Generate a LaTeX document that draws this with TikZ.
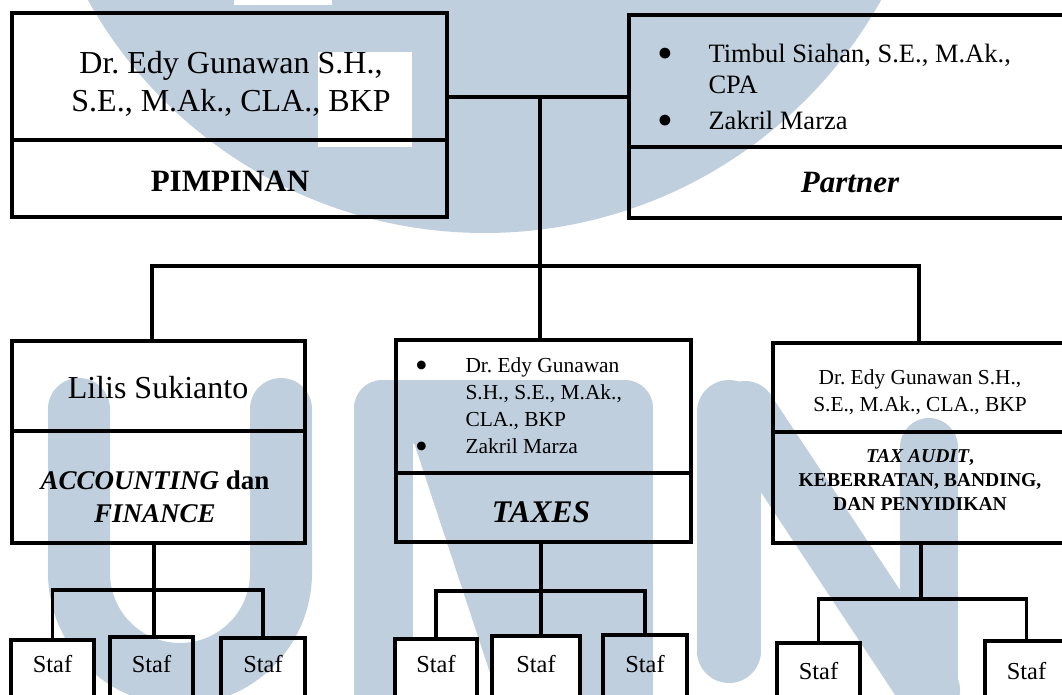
\documentclass[tikz,border=0pt]{standalone}
\usepackage{fontspec}
\setmainfont{Liberation Serif}
\frenchspacing
\usetikzlibrary{positioning}
\definecolor{wmblue}{RGB}{191,207,221}
\newcommand{\bigdot}{\raisebox{-0.23em}{\scalebox{1.7}{\textbullet}}}

\tikzset{
  box/.style={draw, line width=4pt, inner sep=0pt},
  stafbox/.style={box, minimum width=83pt, minimum height=70pt},
  link/.style={line width=3.5pt},
  bigtext/.style={font=\fontsize{32}{38}\selectfont, align=center},
  smalltext/.style={font=\fontsize{21.4}{27}\selectfont, align=center},
  staftext/.style={font=\fontsize{24.4}{28}\selectfont},
}

\begin{document}
\begin{tikzpicture}[x=1pt, y=-1pt]
\useasboundingbox (0,0) rectangle (1062,695);
\clip (0,0) rectangle (1062,695);

% watermark
\fill[wmblue] (484.5,-221) circle (454);
\fill[white] (234,0) rectangle (332,5);
\fill[white] (318,52) rectangle (412,147);
\draw[wmblue, line width=62pt, line cap=round] (79,409) -- (79,573)
    arc[start angle=180, end angle=0, radius=101] -- (281,409);
\fill[wmblue, rounded corners=28pt] (354,740) -- (354,380) -- (653,380) -- (653,740) -- cycle;
\fill[white, rounded corners=6pt] (413,440) -- (413,740) -- (512,740) -- cycle;
\draw[wmblue, line width=64pt, line cap=round] (729,412) -- (729,651);
\draw[wmblue, line width=62pt, line cap=round] (745,412) -- (929,690);
\draw[wmblue, line width=58pt, line cap=round] (929,447) -- (929,740);

% pimpinan
\node[box, minimum width=435pt, minimum height=127pt] (pimTop) at (229.5,76.5) {};
\node[box, minimum width=435pt, minimum height=77pt] (pimBot) at (229.5,178.5) {};
\node[bigtext] (pimName) at (231,84) {Dr. Edy Gunawan S.H.,\\ S.E., M.Ak., CLA., BKP};
\node[font=\bfseries\fontsize{31}{36}\selectfont] (pimRole) at (230,181) {PIMPINAN};

% partner
\node[box, minimum width=446pt, minimum height=132pt] (partTop) at (852,81) {};
\node[box, minimum width=446pt, minimum height=71pt] (partBot) at (852,182.5) {};
\node[anchor=west, font=\fontsize{26.5}{31}\selectfont] (partList) at (654,90)
    {\begin{tabular}{@{}p{51pt}@{}l@{}}
     \bigdot & Timbul Siahan, S.E., M.Ak.,\\
             & CPA\\[5pt]
     \bigdot & Zakril Marza
     \end{tabular}};
\node[font=\bfseries\itshape\fontsize{31}{36}\selectfont] (partRole) at (850,183) {Partner};

% accounting
\node[box, minimum width=293pt, minimum height=90pt] (accTop) at (158.5,386) {};
\node[box, minimum width=293pt, minimum height=112pt] (accBot) at (158.5,487) {};
\node[bigtext] (accName) at (158,388) {Lilis Sukianto};
\node[font=\bfseries\fontsize{27}{33}\selectfont, align=center] (accRole) at (155,497)
    {\textit{ACCOUNTING} dan\\ \textit{FINANCE}};

% taxes
\node[box, minimum width=295pt, minimum height=133pt] (taxTop) at (543.5,406.5) {};
\node[box, minimum width=295pt, minimum height=69pt] (taxBot) at (543.5,507.5) {};
\node[anchor=west, font=\fontsize{21.4}{27}\selectfont] (taxList) at (411.5,408)
    {\begin{tabular}{@{}p{50.5pt}@{}l@{}}
     \bigdot & Dr. Edy Gunawan\\
             & S.H., S.E., M.Ak.,\\
             & CLA., BKP\\
     \bigdot & Zakril Marza
     \end{tabular}};
\node[font=\bfseries\itshape\fontsize{31.5}{36}\selectfont] (taxRole) at (541,512) {TAXES};

% tax audit
\node[box, minimum width=294pt, minimum height=89pt] (audTop) at (920,387.5) {};
\node[box, minimum width=294pt, minimum height=111pt] (audBot) at (920,487.5) {};
\node[smalltext] (audName) at (920,392) {Dr. Edy Gunawan S.H.,\\ S.E., M.Ak., CLA., BKP};
\node[font=\bfseries\fontsize{19.6}{24}\selectfont, align=center] (audRole) at (920,480)
    {\textit{TAX AUDIT},\\ KEBERRATAN, BANDING,\\ DAN PENYIDIKAN};

% top connectors
\coordinate (hub) at (540,97);
\coordinate (busL) at (152,266);
\coordinate (busR) at (919,266);
\draw[link] (pimTop.east |- hub) -- (partTop.west |- hub);
\draw[link] (hub) -- (hub |- taxTop.north);
\draw[link] (busL |- accTop.north) -- (busL) -- (busR) -- (busR |- audTop.north);

% staf
\foreach \n/\x/\y/\w/\f/\t in {La/52.5/640/83/white/664, Lb/151.5/637/83/none/664,
    Lc/263/638/84/none/664, Ma/436/639/82/white/664, Mb/536/636/88/white/664,
    Mc/645/635/84/none/664, Ra/818.5/643/83/white/671, Rb/1026.5/641/83/white/671}{
  \node[stafbox, minimum width=\w pt, fill=\f] (staf\n) at (\x,\y+35) {};
  \node[staftext] (staf\n txt) at (\x,\t) {Staf};
}

\coordinate (subL) at (154,590);
\coordinate (subM) at (541,591);
\coordinate (subR) at (921,599);
\draw[link] (subL |- accBot.south) -- (subL);
\draw[link] (stafLa.north) |- (subL) -| (stafLc.north);
\draw[link] (subL) -- (subL |- stafLb.north);
\draw[link] (subM |- taxBot.south) -- (subM);
\draw[link] (stafMa.north) |- (subM) -| (stafMc.north);
\draw[link] (subM) -- (subM |- stafMb.north);
\draw[link] (subR |- audBot.south) -- (subR);
\draw[link] (stafRa.north) |- (subR) -| (stafRb.north);
\end{tikzpicture}
\end{document}
